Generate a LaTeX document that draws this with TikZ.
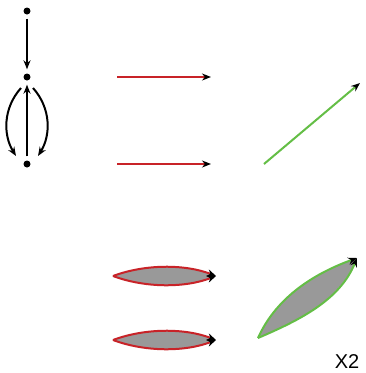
\documentclass[tikz,border=0pt]{standalone}
\usepackage{fontspec}
\setmainfont{Liberation Sans}
\usetikzlibrary{arrows.meta}
\definecolor{myred}{RGB}{200,35,40}
\definecolor{mygreen}{RGB}{100,190,70}
\definecolor{mygray}{RGB}{153,153,153}
\begin{document}
\begin{tikzpicture}[x=1pt,y=-1pt,
  dotn/.style={circle,fill=black,inner sep=0pt,minimum size=7pt},
  conn/.style={line width=2pt,-{Stealth[length=9pt,width=7pt,black]}},
  redarr/.style={conn,myred},
  greenarr/.style={conn,mygreen},
  lensfill/.style={fill=mygray}]
\useasboundingbox (0,0) rectangle (366,373);
% graph
\node[dotn] (a) at (27,11) {};
\node[dotn] (b) at (27,77) {};
\node[dotn] (c) at (27,164) {};
\draw[conn,shorten <=4pt,shorten >=4pt] (a) -- (b);
\draw[conn,shorten <=4pt,shorten >=4pt] (c) -- (b);
\coordinate (bl1) at (21,88);
\coordinate (bl2) at (16,156);
\coordinate (br1) at (33,88);
\coordinate (br2) at (38,156);
\draw[conn] (bl1) .. controls (3,108) and (3,135) .. (bl2);
\draw[conn] (br1) .. controls (51,108) and (51,135) .. (br2);
% red arrows
\coordinate (r1s) at (117,77);
\coordinate (r1e) at (211,77);
\coordinate (r2s) at (117,164);
\coordinate (r2e) at (211,164);
\draw[redarr] (r1s) -- (r1e);
\draw[redarr] (r2s) -- (r2e);
% green arrow
\coordinate (gs) at (264,164);
\coordinate (ge) at (360,83);
\draw[greenarr] (gs) -- (ge);
% lenses
\coordinate (l1s) at (113,276);
\coordinate (l1e) at (216,276);
\coordinate (l2s) at (113,340);
\coordinate (l2e) at (216,340);
\fill[lensfill] (l1s) .. controls (145,264) and (185,264) .. (l1e) .. controls (185,288) and (145,288) .. (l1s);
\draw[redarr] (l1s) .. controls (145,264) and (185,264) .. (l1e);
\draw[redarr] (l1s) .. controls (145,288) and (185,288) .. (l1e);
\fill[lensfill] (l2s) .. controls (145,328) and (185,328) .. (l2e) .. controls (185,352) and (145,352) .. (l2s);
\draw[redarr] (l2s) .. controls (145,328) and (185,328) .. (l2e);
\draw[redarr] (l2s) .. controls (145,352) and (185,352) .. (l2e);
% green lens
\coordinate (g2s) at (258,338);
\coordinate (g2e) at (357,258);
\fill[lensfill] (g2s) .. controls (275,300) and (310,275) .. (g2e) .. controls (340,300) and (300,320) .. (g2s);
\draw[greenarr] (g2s) .. controls (275,300) and (310,275) .. (g2e);
\draw[greenarr] (g2s) .. controls (300,320) and (340,300) .. (g2e);
\node[font=\fontsize{20}{24}\selectfont,inner sep=0pt] (x2) at (347,362) {X2};
\end{tikzpicture}
\end{document}
